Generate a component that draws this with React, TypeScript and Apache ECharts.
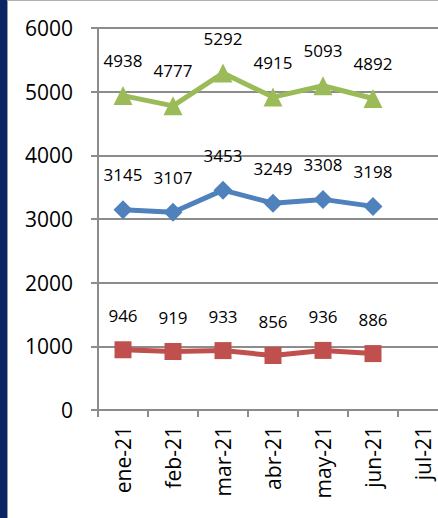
import React, { useEffect, useRef } from "react";
import * as echarts from "echarts";

const categories = ["ene-21", "feb-21", "mar-21", "abr-21", "may-21", "jun-21", "jul-21"];
const greenValues = [4938, 4777, 5292, 4915, 5093, 4892];
const blueValues = [3145, 3107, 3453, 3249, 3308, 3198];
const redValues = [946, 919, 933, 856, 936, 886];
const yTicks = { min: 0, max: 6000, interval: 1000 };

const FONT = "'Open Sans', 'Noto Sans', sans-serif";

export default function App() {
  const ref = useRef<HTMLDivElement>(null);
  useEffect(() => {
    if (!ref.current) return;
    const chart = echarts.init(ref.current, undefined, { renderer: "svg" });
    const label = {
      show: true,
      position: "top",
      distance: 17,
      fontSize: 17,
      color: "#000",
      fontFamily: FONT,
    };
    const mk = (name: string, data: number[], color: string, symbol: string, size: number) => ({
      name,
      type: "line",
      data,
      symbol,
      symbolSize: size,
      showSymbol: true,
      itemStyle: { color },
      lineStyle: { color, width: 5 },
      label,
      z: 3,
    });
    chart.setOption({
      animation: false,
      backgroundColor: "#fff",
      grid: { left: 98, right: 0, top: 28, bottom: 108, containLabel: false },
      xAxis: {
        type: "category",
        data: categories,
        boundaryGap: true,
        axisLine: { lineStyle: { color: "#8c8c8c", width: 2 } },
        axisTick: { show: true, length: 7, lineStyle: { color: "#8c8c8c", width: 2 }, alignWithLabel: false },
        axisLabel: { rotate: 90, margin: 16, fontSize: 21, color: "#000", fontFamily: FONT, interval: 0 },
        splitLine: { show: false },
      },
      yAxis: {
        type: "value",
        min: yTicks.min,
        max: yTicks.max,
        interval: yTicks.interval,
        axisLine: { show: true, lineStyle: { color: "#8c8c8c", width: 2 } },
        axisTick: { show: true, length: 7, lineStyle: { color: "#8c8c8c", width: 2 } },
        axisLabel: {
          margin: 25,
          fontSize: 21,
          color: "#000",
          fontFamily: FONT,
          formatter: (v: number) => String(v),
        },
        splitLine: { show: true, lineStyle: { color: "#8c8c8c", width: 2 } },
      },
      series: [
        mk("green", greenValues, "#9BBB59", "triangle", 19),
        mk("blue", blueValues, "#4F81BD", "diamond", 19),
        mk("red", redValues, "#C0504D", "rect", 17),
      ],
      graphic: [
        { type: "rect", left: 0, top: 0, shape: { x: 0, y: 0, width: 7, height: 518 }, style: { fill: "#0B2466" }, z: 100 },
        { type: "line", shape: { x1: 7.5, y1: 0, x2: 7.5, y2: 518 }, style: { stroke: "#9a9a9a", lineWidth: 1 }, z: 100 },
        { type: "line", shape: { x1: 7, y1: 0.5, x2: 448, y2: 0.5 }, style: { stroke: "#b0b0b0", lineWidth: 1 }, z: 100 },
      ],
    });
    return () => chart.dispose();
  }, []);
  return (
    <div style={{ position: "fixed", left: 0, top: 0, width: 438, height: 518, overflow: "hidden", background: "#fff" }}>
      <div ref={ref} style={{ width: 448, height: 518 }} />
    </div>
  );
}
